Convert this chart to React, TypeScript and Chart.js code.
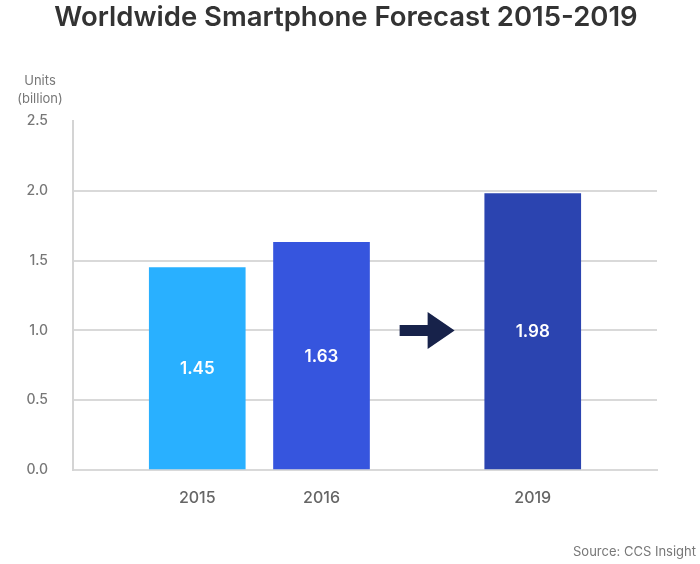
import React, { useEffect, useRef } from "react";
import { Chart, registerables } from "chart.js";

Chart.register(...registerables);

// Forecast data (billion units)
const categories = ["2015", "2016", "2019"];
const shipments = [1.45, 1.63, 1.98];
const barColors = ["#29b0ff", "#3655de", "#2b44b0"];
const yTicks = [0, 0.5, 1.0, 1.5, 2.0, 2.5];

const TITLE = "Worldwide Smartphone Forecast 2015-2019";
const UNIT_LINES = ["Units", "(billion)"];
const SOURCE = "Source: CCS Insight";

// Horizontal slots: the forecast year sits after a wider gap that holds the arrow.
const FORECAST_GAP = 0.7;
const slotOf = (i: number) => i + (i >= 2 ? FORECAST_GAP : 0);

const FONT = "Inter, 'Open Sans', sans-serif";

const textPlugin = {
  id: "annotations",
  afterDraw(chart: any) {
    const { ctx } = chart;
    ctx.save();
    // Title
    ctx.fillStyle = "#333333";
    ctx.font = `600 27.5px ${FONT}`;
    ctx.textAlign = "center";
    ctx.textBaseline = "middle";
    ctx.fillText(TITLE, 346, 18);

    // Unit label
    ctx.fillStyle = "#777777";
    ctx.font = `400 13px ${FONT}`;
    ctx.fillText(UNIT_LINES[0], 40, 81);
    ctx.fillText(UNIT_LINES[1], 40, 99);

    // Source note
    ctx.textAlign = "right";
    ctx.font = `400 13px ${FONT}`;
    ctx.fillText(SOURCE, 696, 552);

    // Value labels inside bars
    const meta = chart.getDatasetMeta(0);
    ctx.fillStyle = "#ffffff";
    ctx.textAlign = "center";
    ctx.font = `600 17px ${FONT}`;
    meta.data.forEach((bar: any, i: number) => {
      const midY = (bar.y + bar.base) / 2;
      ctx.fillText(shipments[i].toFixed(2), bar.x, midY + 1);
    });

    // Arrow pointing from the actuals to the forecast
    const b1 = meta.data[1];
    const b2 = meta.data[2];
    const left1 = b1.x + b1.width / 2;
    const right2 = b2.x - b2.width / 2;
    const cx = (left1 + right2) / 2;
    const cy = chart.scales.y.getPixelForValue(1.0);
    const total = 55;
    const shaft = 28;
    const x0 = cx - total / 2;
    ctx.fillStyle = "#17224a";
    ctx.beginPath();
    ctx.moveTo(x0, cy - 5.5);
    ctx.lineTo(x0 + shaft, cy - 5.5);
    ctx.lineTo(x0 + shaft, cy - 18.5);
    ctx.lineTo(x0 + total, cy);
    ctx.lineTo(x0 + shaft, cy + 18.5);
    ctx.lineTo(x0 + shaft, cy + 5.5);
    ctx.lineTo(x0, cy + 5.5);
    ctx.closePath();
    ctx.fill();
    ctx.restore();
  },
};

export default function App() {
  const canvasRef = useRef<HTMLCanvasElement | null>(null);

  useEffect(() => {
    document.body.style.margin = "0";
    const canvas = canvasRef.current;
    if (!canvas) return;

    const slots = categories.map((_, i) => slotOf(i));
    const chart = new Chart(canvas, {
      type: "bar",
      data: {
        datasets: [
          {
            data: shipments.map((v, i) => ({ x: slots[i], y: v })),
            backgroundColor: barColors,
            borderWidth: 0,
            barThickness: 96,
          },
        ],
      },
      options: {
        responsive: false,
        animation: false,
        events: [],
        layout: { padding: { top: 121, right: 43, bottom: 0, left: 0 } },
        plugins: {
          legend: { display: false },
          title: { display: false },
          tooltip: { enabled: false },
        },
        scales: {
          x: {
            type: "linear",
            offset: false,
            min: -1,
            max: slots[slots.length - 1] + 1,
            grid: { display: false, drawTicks: false, offset: false },
            border: { display: true, color: "#d9d9d9", width: 2 },
            afterBuildTicks: (scale: any) => {
              scale.ticks = slots.map((v) => ({ value: v }));
            },
            afterFit: (scale: any) => {
              scale.height = 94;
            },
            ticks: {
              padding: 19,
              color: "#666666",
              font: { family: FONT, size: 16, weight: "500" },
              callback: (value: any) => {
                const idx = slots.indexOf(Number(value));
                return idx >= 0 ? categories[idx] : "";
              },
            },
          },
          y: {
            min: 0,
            max: 2.5,
            afterBuildTicks: (scale: any) => {
              scale.ticks = yTicks.map((v) => ({ value: v }));
            },
            afterFit: (scale: any) => {
              scale.width = 73;
            },
            grid: {
              drawTicks: false,
              lineWidth: 2,
              color: (ctx: any) =>
                ctx.tick && (ctx.tick.value === 2.5 || ctx.tick.value === 0)
                  ? "rgba(0,0,0,0)"
                  : "#d9d9d9",
            },
            border: { display: true, color: "#d4d4d4", width: 2 },
            ticks: {
              padding: 25,
              color: "#777777",
              font: { family: FONT, size: 14, weight: "500" },
              callback: (value: any) => Number(value).toFixed(1),
            },
          },
        },
      },
      plugins: [textPlugin],
    });

    return () => chart.destroy();
  }, []);

  return (
    <div style={{ width: 700, height: 564 }}>
      <canvas ref={canvasRef} width={700} height={564} />
    </div>
  );
}
